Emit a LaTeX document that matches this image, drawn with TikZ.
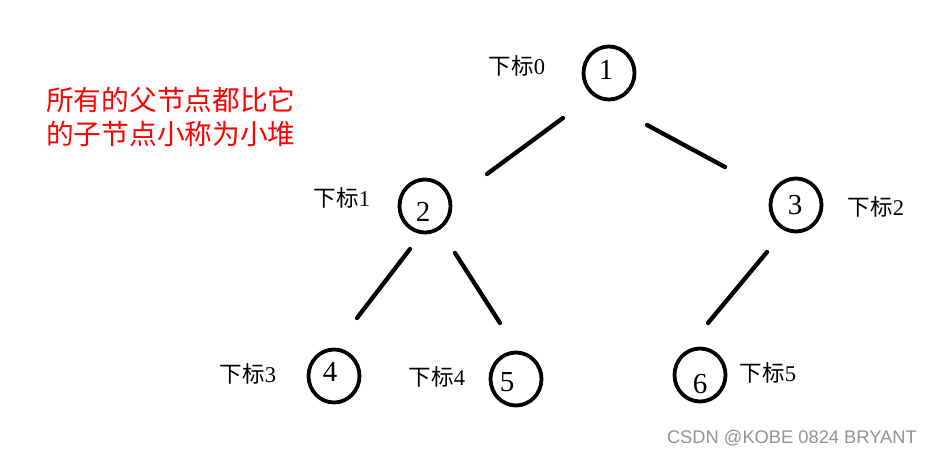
\documentclass[tikz,border=0pt]{standalone}
\usepackage{fontspec}
\setmainfont{Liberation Serif}
\newfontfamily\cjk{Noto Sans CJK SC}
\newfontfamily\wmfont{Liberation Sans}
\usetikzlibrary{shapes.geometric,calc}
\tikzset{
  heapnode/.style={ellipse, draw=black, line width=3.8pt, minimum width=51pt, minimum height=53pt, inner sep=0pt},
  digit/.style={inner sep=0pt, font=\fontsize{29}{29}\selectfont},
  idx/.style={inner sep=0pt, font=\fontsize{22.5}{22.5}\selectfont},
  edge/.style={line width=4.3pt, line cap=round},
  note/.style={inner sep=0pt, text=red, align=left, font=\cjk\fontsize{27.7}{34}\selectfont},
  wm/.style={inner sep=0pt, text=black!42, font=\wmfont\fontsize{18.3}{18.3}\selectfont}
}
\begin{document}
\begin{tikzpicture}[x=1pt,y=-1pt]
\useasboundingbox[fill=white] (0,0) rectangle (931,454);
% circles
\node[heapnode] (n1) at (609,73) {};
\node[heapnode] (n2) at (425,206) {};
\node[heapnode] (n3) at (796,205) {};
\node[heapnode] (n4) at (334,376) {};
\node[heapnode] (n5) at (516,379) {};
\node[heapnode] (n6) at (700,375) {};
% digits
\node[digit] (d1) at ($(n1)+(-3,-3)$) {1};
\node[digit] (d2) at ($(n2)+(-2,6)$) {2};
\node[digit] (d3) at ($(n3)+(-1,0)$) {3};
\node[digit] (d4) at ($(n4)+(-4,-4)$) {4};
\node[digit] (d5) at ($(n5)+(-9,3)$) {5};
\node[digit] (d6) at ($(n6)+(0,9)$) {6};
% index labels
\node[idx] (l0) at (517,66) {{\cjk 下标}0};
\node[idx] (l1) at (342,198) {{\cjk 下标}1};
\node[idx] (l2) at (876,207) {{\cjk 下标}2};
\node[idx] (l3) at (248,374) {{\cjk 下标}3};
\node[idx] (l4) at (437,377) {{\cjk 下标}4};
\node[idx] (l5) at (768,373) {{\cjk 下标}5};
% edges
\draw[edge] ($(n1)+(-46,45)$) -- ($(n2)+(62,-32)$);
\draw[edge] ($(n1)+(38,52)$) -- ($(n3)+(-71,-38)$);
\draw[edge] ($(n2)+(-15,43)$) -- ($(n4)+(23,-58)$);
\draw[edge] ($(n2)+(30,47)$) -- ($(n5)+(-16,-56)$);
\draw[edge] ($(n3)+(-29,47)$) -- ($(n6)+(8,-52)$);
% note
\node[note, anchor=west] (note) at (46,117) {所有的父节点都比它\\的子节点小称为小堆};
% watermark
\node[wm, anchor=east] (wm) at (917,438) {CSDN @KOBE 0824 BRYANT};
\end{tikzpicture}
\end{document}
